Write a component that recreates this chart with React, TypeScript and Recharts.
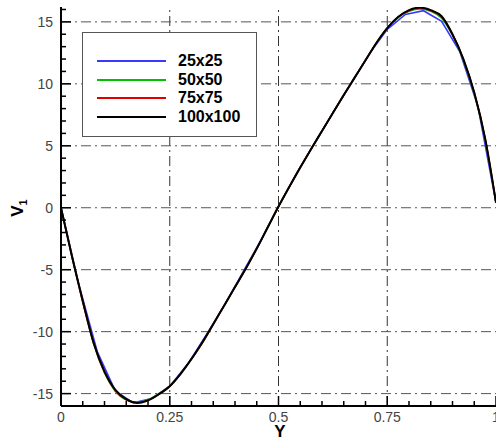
import React from "react";
import { LineChart, Line, XAxis, YAxis, ReferenceLine, Legend } from "recharts";

const FONT = "'Liberation Sans', Arial, sans-serif";

// fine grid (50x50, 75x75, 100x100 curves)
const yFine = [
  0, 0.025, 0.05, 0.075, 0.1, 0.125, 0.15, 0.175, 0.2, 0.225, 0.25, 0.275, 0.3, 0.325, 0.35,
  0.375, 0.4, 0.425, 0.45, 0.475, 0.5, 0.525, 0.55, 0.575, 0.6, 0.625, 0.65, 0.675, 0.7, 0.725,
  0.75, 0.775, 0.8, 0.825, 0.85, 0.875, 0.9, 0.925, 0.95, 0.975, 1,
];
const v100 = [
  0, -3.9, -7.5, -10.9, -13.2, -14.7, -15.45, -15.75, -15.55, -15.05, -14.4, -13.4, -12.2, -10.85,
  -9.4, -7.9, -6.4, -4.9, -3.3, -1.6, 0.1, 1.7, 3.25, 4.75, 6.2, 7.65, 9.1, 10.5, 11.9, 13.3, 14.5,
  15.4, 15.95, 16.15, 15.95, 15.45, 14.0, 12.0, 9.3, 5.6, 0.4,
];
const v75 = [
  0, -3.9, -7.6, -10.9, -13.3, -14.75, -15.5, -15.75, -15.55, -15.05, -14.4, -13.4, -12.2, -10.9,
  -9.4, -7.9, -6.4, -4.9, -3.3, -1.6, 0.1, 1.7, 3.25, 4.75, 6.2, 7.65, 9.1, 10.5, 11.9, 13.3, 14.5,
  15.4, 15.9, 16.1, 15.9, 15.4, 14.0, 12.0, 9.3, 5.6, 0.4,
];
const v50 = [
  0, -3.9, -7.6, -11.0, -13.3, -14.8, -15.5, -15.7, -15.5, -15.0, -14.4, -13.4, -12.2, -10.9,
  -9.4, -7.9, -6.4, -4.9, -3.3, -1.6, 0.1, 1.7, 3.25, 4.75, 6.2, 7.65, 9.1, 10.5, 11.9, 13.3, 14.5,
  15.35, 15.85, 16.05, 15.85, 15.3, 13.9, 11.9, 9.2, 5.5, 0.4,
];

// coarse grid (25x25)
const yCoarse = [
  0, 0.0417, 0.0833, 0.125, 0.1667, 0.2083, 0.25, 0.2917, 0.3333, 0.375, 0.4167, 0.4583, 0.5,
  0.5417, 0.5833, 0.625, 0.6667, 0.7083, 0.75, 0.7917, 0.8333, 0.875, 0.9167, 0.9583, 1,
];
const v25 = [
  0, -6.3, -11.6, -14.8, -15.75, -15.4, -14.4, -12.6, -10.3, -7.9, -5.3, -2.7, 0.1, 2.8, 5.2, 7.65,
  10.0, 12.4, 14.4, 15.6, 15.9, 15.05, 12.6, 8.2, 0.4,
];

const xMajor = [0, 0.25, 0.5, 0.75, 1];
const xMinor = [
  0, 0.05, 0.1, 0.15, 0.2, 0.25, 0.3, 0.35, 0.4, 0.45, 0.5, 0.55, 0.6, 0.65, 0.7, 0.75, 0.8, 0.85,
  0.9, 0.95, 1,
];
const yMajor = [-15, -10, -5, 0, 5, 10, 15];
const yMinor = [
  -15, -14, -13, -12, -11, -10, -9, -8, -7, -6, -5, -4, -3, -2, -1, 0, 1, 2, 3, 4, 5, 6, 7, 8, 9,
  10, 11, 12, 13, 14, 15, 16,
];
const xGrid = [0.25, 0.5, 0.75];

const series = [
  { name: "25x25", x: yCoarse, v: v25, color: "#3a3aff", type: "linear" },
  { name: "50x50", x: yFine, v: v50, color: "#00c000", type: "monotone" },
  { name: "75x75", x: yFine, v: v75, color: "#e00000", type: "monotone" },
  { name: "100x100", x: yFine, v: v100, color: "#000000", type: "monotone" },
];

const toRows = (xs: number[], vs: number[]) => xs.map((x, i) => ({ x, v: vs[i] }));

const XTick = (props: any) => {
  const { x, y, payload } = props;
  const major = xMajor.includes(payload.value);
  return (
    <g>
      <line x1={x} x2={x} y1={y} y2={y - (major ? 10 : 5)} stroke="#000" strokeWidth={1.5} />
      {major && (
        <text x={x} y={y + 16} textAnchor="middle" fontSize={14} fontFamily={FONT} fill="#444">
          {payload.value}
        </text>
      )}
    </g>
  );
};

const YTick = (props: any) => {
  const { x, y, payload } = props;
  const major = yMajor.includes(payload.value);
  return (
    <g>
      <line x1={x} x2={x + (major ? 10 : 5)} y1={y} y2={y} stroke="#000" strokeWidth={1.5} />
      {major && (
        <text x={x - 8} y={y + 5} textAnchor="end" fontSize={14} fontFamily={FONT} fill="#444">
          {payload.value}
        </text>
      )}
    </g>
  );
};

const LegendBox = () => (
  <div
    style={{
      boxSizing: "border-box",
      width: 175,
      height: 105,
      border: "1.5px solid #555",
      background: "#fff",
      paddingTop: 19,
      paddingLeft: 14,
      fontFamily: FONT,
    }}
  >
    {series.map((s) => (
      <div key={s.name} style={{ display: "flex", alignItems: "center", height: 18.5 }}>
        <div style={{ width: 69, height: 2, background: s.color }} />
        <span style={{ marginLeft: 12, fontSize: 16, fontWeight: "bold", color: "#000" }}>
          {s.name}
        </span>
      </div>
    ))}
  </div>
);

export default function App() {
  return (
    <div style={{ position: "absolute", left: 0, top: 0, background: "#fff" }}>
      <LineChart width={496} height={441} margin={{ top: 7, right: 0, bottom: 0, left: 0 }}>
        <XAxis
          type="number"
          dataKey="x"
          domain={[0, 1]}
          ticks={xMinor}
          interval={0}
          tick={<XTick />}
          tickLine={false}
          tickSize={0}
          tickMargin={0}
          height={35}
          axisLine={{ stroke: "#000", strokeWidth: 2 }}
          allowDuplicatedCategory={false}
        />
        <YAxis
          type="number"
          domain={[-16, 16.2]}
          ticks={yMinor}
          interval={0}
          tick={<YTick />}
          tickLine={false}
          tickSize={0}
          tickMargin={0}
          width={61}
          axisLine={{ stroke: "#000", strokeWidth: 2 }}
          allowDataOverflow
        />
        {xGrid.map((g) => (
          <ReferenceLine key={"x" + g} x={g} stroke="#333" strokeWidth={1} strokeDasharray="10 4 2 4" />
        ))}
        {yMajor.map((g) => (
          <ReferenceLine key={"y" + g} y={g} stroke="#555" strokeWidth={1} strokeDasharray="10 4 2 4" />
        ))}
        {series.map((s) => (
          <Line
            key={s.name}
            name={s.name}
            data={toRows(s.x, s.v)}
            dataKey="v"
            type={s.type as any}
            stroke={s.color}
            strokeWidth={s.name === "100x100" ? 2 : 1.6}
            dot={false}
            isAnimationActive={false}
          />
        ))}
        <Legend
          layout="vertical"
          align="center"
          verticalAlign="middle"
          content={<LegendBox />}
          wrapperStyle={{ position: "absolute", left: 82, top: 32, width: 175, height: 105 }}
        />
        <text x={280} y={437} textAnchor="middle" fontSize={17} fontWeight="bold" fontFamily={FONT} fill="#000">
          Y
        </text>
        <text
          x={23}
          y={208}
          transform="rotate(-90, 23, 208)"
          textAnchor="middle"
          fontSize={17}
          fontWeight="bold"
          fontFamily={FONT}
          fill="#000"
        >
          V<tspan fontSize={11} dy={4}>1</tspan>
        </text>
      </LineChart>
    </div>
  );
}
